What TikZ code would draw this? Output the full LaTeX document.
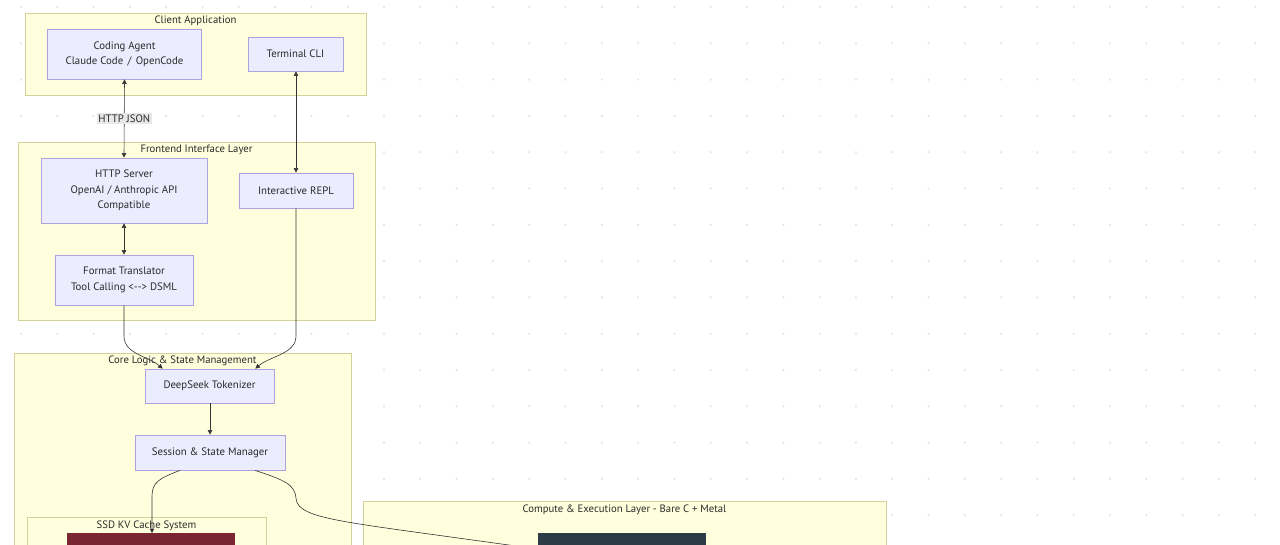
\documentclass[tikz,border=0pt]{standalone}
\usepackage{fontspec}
\setmainfont{PT Sans}
\usetikzlibrary{arrows.meta}
\definecolor{clfill}{HTML}{FFFFDE}
\definecolor{clline}{HTML}{D2D29A}
\definecolor{ndfill}{HTML}{ECECFF}
\definecolor{ndline}{HTML}{B0A2DC}
\definecolor{edgec}{HTML}{333333}
\definecolor{txtc}{HTML}{2A2A2A}
\definecolor{dotc}{HTML}{E4E4E4}
\definecolor{lblfill}{HTML}{E8E8E8}
\definecolor{redbox}{HTML}{7A2632}
\definecolor{darkbox}{HTML}{2C3B45}
\tikzset{
  cluster/.style={draw=clline, fill=clfill, line width=0.8pt},
  cltitle/.style={text=txtc, inner sep=0pt, font=\fontsize{10.7}{13}\selectfont},
  nodebox/.style={draw=ndline, fill=ndfill, line width=0.8pt, text=txtc, inner sep=0pt,
    align=center, font=\fontsize{10.8}{15.5}\selectfont},
  edge/.style={draw=edgec, line width=0.6pt},
  tip/.style={-{Triangle[length=4.5pt,width=4.5pt]}},
  tips/.style={{Triangle[length=4.5pt,width=4.5pt]}-{Triangle[length=4.5pt,width=4.5pt]}},
  elabel/.style={fill=lblfill, text=txtc, inner sep=1.5pt, font=\fontsize{10.8}{13}\selectfont}
}
\begin{document}
\begin{tikzpicture}[x=1pt,y=-1pt]
\clip (0,0) rectangle (1280,544);
\fill[white] (0,0) rectangle (1280,544);
% dot grid
\foreach \i in {0,...,34} {
  \foreach \j in {0,...,14} {
    \fill[dotc] ({21+36.3*\i},{7+36.3*\j}) circle (1.2pt);
  }
}
% clusters
\draw[cluster] (25,13) rectangle (366,95);
\node[cltitle] (tclient) at (195.5,20.5) {Client Application};
\draw[cluster] (18,142) rectangle (375,320);
\node[cltitle] (tfront) at (196.5,149.5) {Frontend Interface Layer};
\draw[cluster] (14,353) rectangle (351,620);
\node[cltitle] (tcore) at (182.5,360.5) {Core Logic \& State Management};
\draw[cluster] (27,517) rectangle (266,620);
\node[cltitle] (tssd) at (146.5,525.5) {SSD KV Cache System};
\draw[cluster] (363,501) rectangle (886,620);
\node[cltitle] (tcomp) at (624.5,509.5) {Compute \& Execution Layer - Bare C + Metal};
% nodes
\node[nodebox, minimum width=154pt, minimum height=50pt] (coding) at (124.5,54) {Coding Agent\\Claude Code\hspace{1.5pt} / \hspace{1.5pt}OpenCode};
\node[nodebox, minimum width=95pt, minimum height=34pt] (cli) at (295.5,54) {Terminal CLI};
\node[nodebox, minimum width=166pt, minimum height=65pt] (http) at (124,190.5) {HTTP Server\\OpenAI / Anthropic API\\Compatible};
\node[nodebox, minimum width=114pt, minimum height=35pt] (repl) at (296,190.5) {Interactive REPL};
\node[nodebox, minimum width=138pt, minimum height=50pt] (fmt) at (124,280) {Format Translator\\Tool Calling <{-}-> DSML};
\node[nodebox, minimum width=129pt, minimum height=34pt] (tok) at (209.5,386) {DeepSeek Tokenizer};
\node[nodebox, minimum width=150pt, minimum height=35pt] (sess) at (210,452.5) {Session \& State Manager};
\node[draw=redbox, fill=redbox, minimum width=167pt, minimum height=60pt, anchor=north, inner sep=0pt] (kv) at (150.5,533) {};
\node[draw=darkbox, fill=darkbox, minimum width=167pt, minimum height=60pt, anchor=north, inner sep=0pt] (gpu) at (621.5,533) {};
% edges
\draw[edge, tips] (coding.south) -- node[elabel] (lbl) {HTTP JSON} (http.north);
\draw[edge, tips] ([xshift=0.5pt]cli.south) -- (repl.north);
\draw[edge, tips] (http.south) -- (fmt.north);
\draw[edge, tip] (fmt.south) -- (124,336) .. controls (124,354) and (148,356) .. ([xshift=18pt]tok.north west);
\draw[edge, tip] (repl.south) -- (296,336) .. controls (296,354) and (270,356) .. ([xshift=-19pt]tok.north east);
\draw[edge, tip] ([xshift=0.5pt]tok.south) -- (sess.north);
\draw[edge, tip] ([xshift=-30pt]sess.south) .. controls (160,478) and (152,482) .. (152,496) -- ([xshift=1.5pt]kv.north);
\draw[edge, tip] ([xshift=45pt]sess.south) .. controls (285,480) and (295,485) .. (296,498) .. controls (297,514) and (322,519) .. (400,530) -- ([yshift=-16pt]gpu.north west);
\end{tikzpicture}
\end{document}
